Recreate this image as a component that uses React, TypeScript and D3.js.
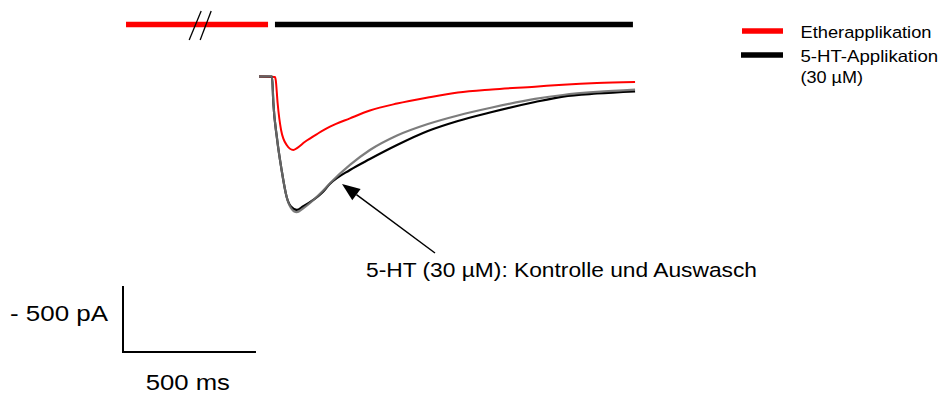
import React from "react";
import * as d3 from "d3";

// Time (ms) relative to trace start, current (pA)
const blackTime = [0, 49, 54, 67, 85, 104, 120, 142, 165, 236, 267, 342, 417, 519, 635, 748, 876, 1038, 1143, 1271, 1414];
const blackCurrent = [0, 0, -201, -458, -708, -913, -985, -1010, -985, -883, -813, -708, -625, -519, -413, -337, -269, -193, -152, -129, -112];

const grayTime = [0, 49, 54, 67, 85, 104, 120, 142, 165, 236, 267, 342, 417, 519, 635, 748, 876, 1038, 1143, 1271, 1414];
const grayCurrent = [0, 0, -201, -458, -708, -913, -995, -1028, -1000, -875, -809, -670, -557, -447, -360, -295, -235, -170, -140, -117, -100];

const redTime = [0, 60, 63, 70, 83, 104, 129, 143, 173, 223, 267, 342, 417, 519, 635, 748, 876, 1038, 1143, 1271, 1414];
const redCurrent = [0, -4, -27, -201, -405, -519, -557, -542, -494, -430, -380, -317, -258, -205, -159, -121, -98, -77, -62, -49, -42];

// Application periods (ms)
const etherPeriod = [-500, 34];
const serotoninPeriod = [60, 1406];
const breakTime = -240;

// Scale bar sizes
const scaleBarTime = 500;
const scaleBarCurrent = 500;

const legendLabels = ["Etherapplikation", "5-HT-Applikation", "(30 µM)"];
const annotation = "5-HT (30 µM): Kontrolle und Auswasch";
const currentLabel = "- 500 pA";
const timeLabel = "500 ms";

const W = 943;
const H = 394;
const FONT = "'Liberation Sans', Arial, Helvetica, sans-serif";

const x = d3.scaleLinear().domain([0, 1410]).range([259, 634]);
const y = d3.scaleLinear().domain([0, -1000]).range([76.5, 208.5]);

function toPoints(t: number[], v: number[]): [number, number][] {
  return t.map((ti, i) => [ti, v[i]]);
}

const line = d3
  .line<[number, number]>()
  .x((d) => x(d[0]))
  .y((d) => y(d[1]))
  .curve(d3.curveMonotoneX);

export default function App() {
  const barY = 24.5;
  const breakX = x(breakTime);

  // Scale bar corner
  const sbX = 123;
  const sbY = 352;
  const sbW = x(scaleBarTime) - x(0);
  const sbH = y(-scaleBarCurrent) - y(0);

  // Arrow
  const tail: [number, number] = [435, 253];
  const tip: [number, number] = [342, 184];
  const dx = tip[0] - tail[0];
  const dy = tip[1] - tail[1];
  const len = Math.hypot(dx, dy);
  const ux = dx / len;
  const uy = dy / len;
  const headLen = 18;
  const headHalf = 7;
  const bx = tip[0] - ux * headLen;
  const by = tip[1] - uy * headLen;
  const head = [
    [tip[0], tip[1]],
    [bx - uy * headHalf, by + ux * headHalf],
    [bx + uy * headHalf, by - ux * headHalf],
  ]
    .map((p) => p.join(","))
    .join(" ");

  return (
    <svg
      width={W}
      height={H}
      style={{ position: "absolute", left: 0, top: 0, background: "#fff" }}
      fontFamily={FONT}
    >
      {/* application bars */}
      <line x1={x(etherPeriod[0])} x2={x(etherPeriod[1])} y1={barY} y2={barY} stroke="#ff0000" strokeWidth={5.5} />
      <line x1={x(serotoninPeriod[0])} x2={x(serotoninPeriod[1])} y1={barY} y2={barY} stroke="#000" strokeWidth={5.5} />
      {/* time break */}
      <line x1={breakX + 6} y1={11} x2={breakX - 6} y2={40} stroke="#000" strokeWidth={1.3} />
      <line x1={breakX + 16} y1={11} x2={breakX + 5} y2={40} stroke="#000" strokeWidth={1.3} />

      {/* current traces */}
      <path d={line(toPoints(redTime, redCurrent)) || ""} fill="none" stroke="#ff0000" strokeWidth={2} />
      <path d={line(toPoints(blackTime, blackCurrent)) || ""} fill="none" stroke="#000" strokeWidth={2.2} />
      <path d={line(toPoints(grayTime, grayCurrent)) || ""} fill="none" stroke="#6f6f6f" strokeWidth={2.2} strokeOpacity={0.9} />

      {/* annotation arrow */}
      <line x1={tail[0]} y1={tail[1]} x2={bx} y2={by} stroke="#000" strokeWidth={1.5} />
      <polygon points={head} fill="#000" />
      <text x={366} y={277} fontSize={20.5} textLength={391} lengthAdjust="spacingAndGlyphs" fill="#000">
        {annotation}
      </text>

      {/* legend */}
      <line x1={742} x2={783} y1={31} y2={31} stroke="#ff0000" strokeWidth={5.5} />
      <line x1={741} x2={783} y1={55} y2={55} stroke="#000" strokeWidth={5.5} />
      <text x={800.5} y={37.7} fontSize={16.7} textLength={131} lengthAdjust="spacingAndGlyphs" fill="#000">
        {legendLabels[0]}
      </text>
      <text x={800.5} y={61.7} fontSize={16.5} textLength={137.6} lengthAdjust="spacingAndGlyphs" fill="#000">
        {legendLabels[1]}
      </text>
      <text x={800.5} y={83} fontSize={16.5} textLength={62.6} lengthAdjust="spacingAndGlyphs" fill="#000">
        {legendLabels[2]}
      </text>

      {/* scale bar */}
      <path
        d={`M${sbX},${sbY - sbH} L${sbX},${sbY} L${sbX + sbW},${sbY}`}
        fill="none"
        stroke="#000"
        strokeWidth={2}
      />
      <text x={10} y={320.7} fontSize={22} textLength={98} lengthAdjust="spacingAndGlyphs" fill="#000">
        {currentLabel}
      </text>
      <text x={145.7} y={390} fontSize={22} textLength={84.3} lengthAdjust="spacingAndGlyphs" fill="#000">
        {timeLabel}
      </text>
    </svg>
  );
}
